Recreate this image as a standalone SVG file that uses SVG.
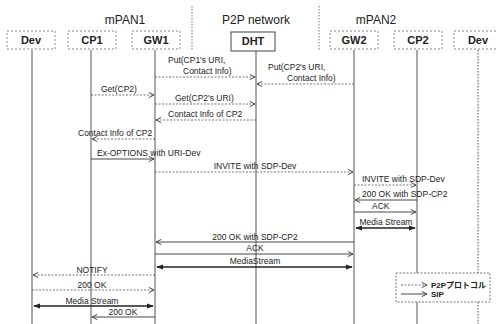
<svg xmlns="http://www.w3.org/2000/svg" width="497" height="324" viewBox="0 0 497 324">
<style>
text{font-family:"Liberation Sans","Noto Sans CJK JP",sans-serif;fill:#222}
.t{font-size:8.5px}
.h{font-size:11px;font-weight:bold;text-anchor:middle}
.g{font-size:12px;text-anchor:middle}
.box{fill:#fff;stroke:#888;stroke-width:1;stroke-dasharray:2,2}
.life{stroke:#555;stroke-width:1}
.sep{stroke:#777;stroke-width:1;stroke-dasharray:1.5,1.5}
.p2p{stroke:#555;stroke-width:0.8;stroke-dasharray:2,1.5;fill:none}
.sip{stroke:#333;stroke-width:0.9;fill:none}
.med{stroke:#222;stroke-width:1.3;fill:none}
.c{text-anchor:middle}
.lg{font-size:8px;font-weight:bold}
</style>
<defs>
<marker id="a" viewBox="0 0 8 8" refX="7" refY="4" markerWidth="7" markerHeight="7" orient="auto-start-reverse" markerUnits="userSpaceOnUse">
<path d="M1,1 L7,4 L1,7" fill="none" stroke="#333" stroke-width="1"/>
</marker>
<marker id="f" viewBox="0 0 8 8" refX="7" refY="4" markerWidth="7" markerHeight="7" orient="auto-start-reverse" markerUnits="userSpaceOnUse">
<path d="M0,1 L8,4 L0,7 z" fill="#222"/>
</marker>
</defs>
<rect width="497" height="324" fill="#fff"/>
<g id="groups">
<text class="g" x="125" y="24">mPAN1</text>
<text class="g" x="256" y="24">P2P network</text>
<text class="g" x="376" y="24">mPAN2</text>
<line class="sep" x1="192" y1="6" x2="192" y2="51"/>
<line class="sep" x1="319" y1="6" x2="319" y2="51"/>
</g>
<g id="lifelines">
<line class="life" x1="32" y1="50" x2="32" y2="324"/>
<line class="life" x1="91" y1="50" x2="91" y2="324"/>
<line class="life" x1="155" y1="50" x2="155" y2="324"/>
<line class="life" x1="256" y1="51" x2="256" y2="324" stroke="#666"/>
<line class="life" x1="354" y1="50" x2="354" y2="324"/>
<line class="life" x1="417" y1="50" x2="417" y2="324"/>
<line class="life" x1="478" y1="50" x2="478" y2="324" stroke-dasharray="1.5,1.5" stroke="#888"/>
</g>
<g id="node-dev1"><rect class="box" x="7" y="31" width="48" height="18"/><text class="h" x="31" y="44">Dev</text></g>
<g id="node-cp1"><rect class="box" x="68" y="31" width="48" height="18"/><text class="h" x="92" y="44">CP1</text></g>
<g id="node-gw1"><rect class="box" x="132" y="31" width="48" height="18"/><text class="h" x="156" y="44">GW1</text></g>
<g id="node-dht"><rect x="231" y="32" width="44" height="19" fill="#fff" stroke="#444" stroke-width="1"/><text class="h" x="253" y="45">DHT</text></g>
<g id="node-gw2"><rect class="box" x="330" y="31" width="48" height="18"/><text class="h" x="354" y="44">GW2</text></g>
<g id="node-cp2"><rect class="box" x="394" y="31" width="48" height="18"/><text class="h" x="418" y="44">CP2</text></g>
<g id="node-dev2"><rect class="box" x="454" y="31" width="48" height="18"/><text class="h" x="478" y="44">Dev</text></g>
<g id="connectors">
<line class="p2p" x1="155" y1="77" x2="255" y2="77" marker-end="url(#a)"/>
<line class="p2p" x1="354" y1="84" x2="257" y2="84" marker-end="url(#a)"/>
<line class="p2p" x1="91" y1="95" x2="154" y2="95" marker-end="url(#a)"/>
<line class="p2p" x1="155" y1="104" x2="255" y2="104" marker-end="url(#a)"/>
<line class="p2p" x1="256" y1="120" x2="156" y2="120" marker-end="url(#a)"/>
<line class="p2p" x1="155" y1="139" x2="92" y2="139" marker-end="url(#a)"/>
<line class="sip" x1="91" y1="159" x2="154" y2="159" marker-end="url(#a)"/>
<line class="p2p" x1="155" y1="172" x2="353" y2="172" marker-end="url(#a)"/>
<line class="p2p" x1="354" y1="185" x2="416" y2="185" marker-end="url(#a)"/>
<line class="sip" x1="417" y1="200" x2="355" y2="200" marker-end="url(#a)"/>
<line class="sip" x1="354" y1="212" x2="416" y2="212" marker-end="url(#a)"/>
<line class="med" x1="356" y1="228" x2="415" y2="228" marker-start="url(#f)" marker-end="url(#f)"/>
<line class="sip" x1="354" y1="242" x2="156" y2="242" marker-end="url(#a)"/>
<line class="sip" x1="155" y1="254" x2="353" y2="254" marker-end="url(#a)"/>
<line class="med" x1="157" y1="267" x2="352" y2="267" marker-start="url(#f)" marker-end="url(#f)"/>
<line class="p2p" x1="155" y1="275" x2="33" y2="275" marker-end="url(#a)"/>
<line class="p2p" x1="32" y1="290" x2="154" y2="290" marker-end="url(#a)"/>
<line class="med" x1="34" y1="306" x2="153" y2="306" marker-start="url(#f)" marker-end="url(#f)"/>
<line class="sip" x1="155" y1="317" x2="92" y2="317" marker-end="url(#a)"/>
</g>
<g id="labels">
<text class="t" x="168" y="63">Put(CP1's URI,</text>
<text class="t" x="183" y="74">Contact Info)</text>
<text class="t" x="268" y="70">Put(CP2's URI,</text>
<text class="t" x="287" y="81">Contact Info)</text>
<text class="t" x="101" y="92">Get(CP2)</text>
<text class="t" x="175" y="101">Get(CP2's URI)</text>
<text class="t" x="168" y="117">Contact Info of CP2</text>
<text class="t" x="78" y="136">Contact Info of CP2</text>
<text class="t" x="97" y="156">Ex-OPTIONS with URI-Dev</text>
<text class="t c" x="255" y="169">INVITE with SDP-Dev</text>
<text class="t" x="362" y="182">INVITE with SDP-Dev</text>
<text class="t" x="362" y="197">200 OK with SDP-CP2</text>
<text class="t" x="372" y="209">ACK</text>
<text class="t c" x="386" y="225">Media Stream</text>
<text class="t c" x="255" y="240">200 OK with SDP-CP2</text>
<text class="t c" x="255" y="251">ACK</text>
<text class="t c" x="255" y="264">MediaStream</text>
<text class="t c" x="92" y="273">NOTIFY</text>
<text class="t c" x="92" y="288">200 OK</text>
<text class="t c" x="92" y="304">Media Stream</text>
<text class="t c" x="123" y="315">200 OK</text>
</g>
<g id="legend">
<rect x="396" y="273" width="94" height="29" fill="#fff" stroke="#777" stroke-width="1" stroke-dasharray="2,1.5"/>
<line class="p2p" x1="401" y1="285" x2="427" y2="285" marker-end="url(#a)"/>
<line class="sip" x1="401" y1="294" x2="427" y2="294" marker-end="url(#a)"/>
<text class="lg" x="431" y="288">P2Pプロトコル</text>
<text class="lg" x="431" y="297">SIP</text>
</g>
</svg>
